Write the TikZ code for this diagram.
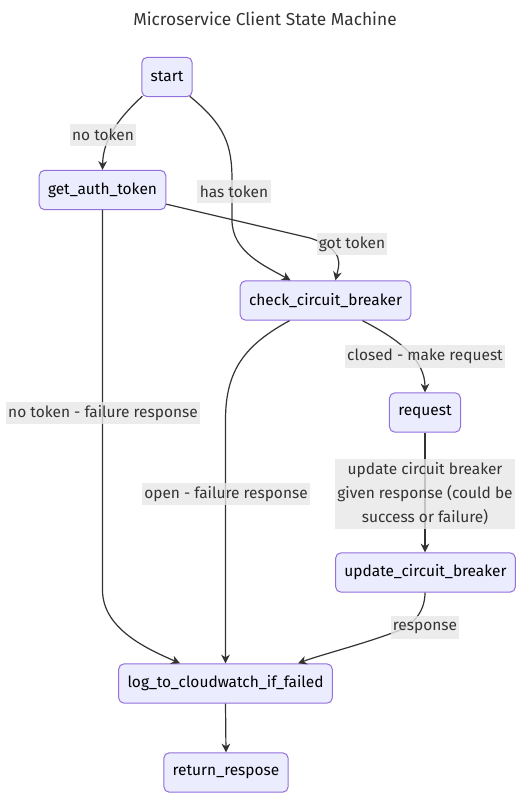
\documentclass[tikz,border=0pt]{standalone}
\usepackage{fontspec}
\setmainfont{Fira Sans}
\usetikzlibrary{arrows.meta,calc}
\definecolor{nodefill}{HTML}{ECECFF}
\definecolor{nodeline}{HTML}{9370DB}
\definecolor{edgecol}{HTML}{333333}
\definecolor{labelbg}{HTML}{E8E8E8}
\definecolor{textcol}{HTML}{333333}
\begin{document}
\begin{tikzpicture}[x=0.75pt,y=-0.75pt,
  state/.style={draw=nodeline, fill=nodefill, line width=0.75pt, rounded corners=4pt,
    minimum height=29.5pt, inner xsep=6.6pt, font=\fontsize{11.6}{14}\selectfont, text=black},
  edge/.style={draw=edgecol, line width=0.9pt, -{Stealth[length=6.5pt,width=6.5pt,inset=2pt]}},
  elabel/.style={fill=labelbg, fill opacity=0.8, text opacity=1, inner xsep=1.8pt, inner ysep=0pt,
    minimum height=17pt, font=\fontsize{11.6}{18}\selectfont, text=textcol, align=center}]
\useasboundingbox (0,0) rectangle (531,800);
\fill[white] (0,0) rectangle (531,800);

\node[font=\fontsize{13}{16}\selectfont, text=textcol] (title) at (265,18.5) {Microservice Client State Machine};

\node[state] (start) at (167,77) {start};
\node[state] (get) at (102.5,190) {get\_auth\_token};
\node[state] (check) at (325.5,300.5) {check\_circuit\_breaker};
\node[state] (req) at (425,412.5) {request};
\node[state] (upd) at (425.5,572.5) {update\_circuit\_breaker};
\node[state] (log) at (225.5,683.5) {log\_to\_cloudwatch\_if\_failed};
\node[state] (ret) at (226,772.5) {return\_respose};

% edges
\draw[edge] ($(start.south west)+(1,-1)$) .. controls (120,117) and (103,138) .. (get.north);
\draw[edge] ($(start.south east)+(-3,-1)$) .. controls (225,125) and (232,145) .. (232,180)
   -- (232,220) .. controls (232,252) and (265,266) .. ($(check.north)+(-35,0)$);
\draw[edge] ($(get.south east)+(0,-6)$) -- (310,238) .. controls (346,250) and (339,265) .. ($(check.north)+(10,0)$);
\draw[edge] (get.south) -- (102.5,590) .. controls (102.5,630) and (150,650) .. ($(log.north)+(-45.5,0)$);
\draw[edge] ($(check.south)+(-36,0)$) .. controls (245,345) and (225.5,370) .. (225.5,420) -- (log.north);
\draw[edge] ($(check.south)+(37,0)$) .. controls (400,340) and (425,360) .. (req.north);
\draw[edge] (req.south) -- (req.south |- upd.north);
\draw[edge] ($(upd.south)+(-0.5,0)$) .. controls (425,610) and (415,625) .. (395,632)
   .. controls (360,645) and (320,655) .. ($(log.north)+(72.5,0)$);
\draw[edge] (log.south) -- (ret.north);

% labels
\node[elabel] (l1) at (103,135) {no token};
\node[elabel] (l2) at (234,191.5) {has token};
\node[elabel] (l3) at (352,244) {got token};
\node[elabel] (l4) at (425,356.5) {closed - make request};
\node[elabel] (l5) at (103,413) {no token - failure response};
\node[elabel] (l6) at (226,494) {open - failure response};
\node[elabel, inner ysep=3pt] (l7) at (425,494) {update circuit breaker\\given response (could be\\success or failure)};
\node[elabel] (l8) at (425,627.5) {response};
\end{tikzpicture}
\end{document}
